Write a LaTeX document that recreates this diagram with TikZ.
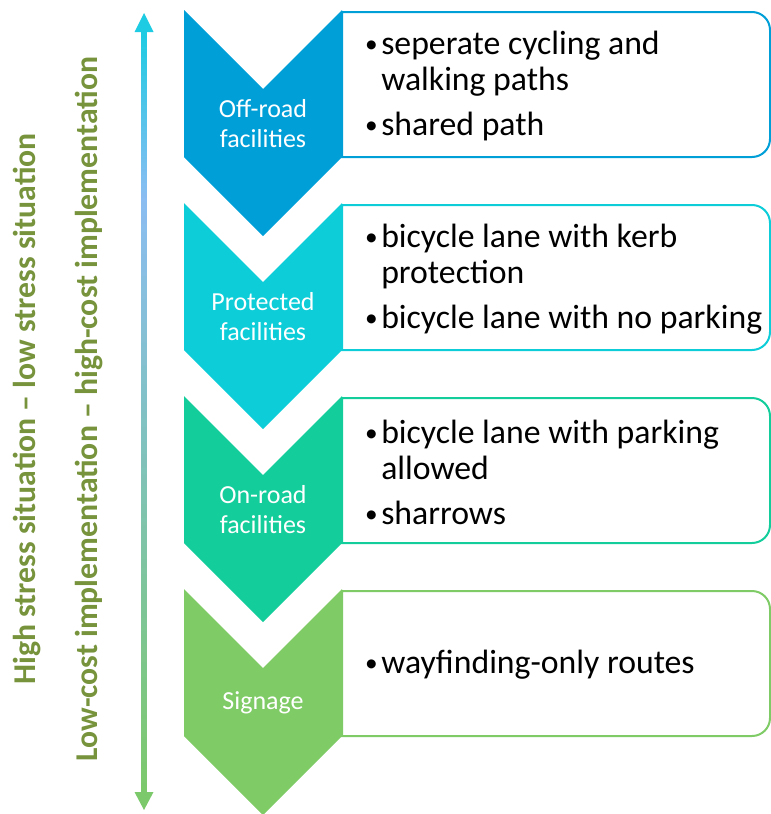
\documentclass[tikz,border=0pt]{standalone}
\usepackage{fontspec}
\setmainfont{Carlito}
\usepackage{tikz}
\usetikzlibrary{positioning, calc}
\definecolor{Path_Blue}{HTML}{009FD8}
\definecolor{Path_Cyan}{HTML}{0CCDD8}
\definecolor{Path_Teal}{HTML}{13CE9B}
\definecolor{Path_Green}{HTML}{7FCB66}
\definecolor{Axis_Olive}{HTML}{77933C}
\definecolor{Axis_Cyan}{HTML}{1DCBE2}
\definecolor{Axis_Sky}{HTML}{8BBDF2}
\definecolor{Axis_Mist}{HTML}{80C2BE}
\definecolor{Axis_Green}{HTML}{7CC96B}
\pgfdeclareverticalshading{axisfade}{100bp}{color(0bp)=(Axis_Green); color(25bp)=(Axis_Green); color(48bp)=(Axis_Mist); color(64bp)=(Axis_Sky); color(75bp)=(Axis_Cyan); color(100bp)=(Axis_Cyan)}
\newcommand{\itembul}{\makebox[12.75pt][l]{\hspace{0.6pt}\raisebox{1.8pt}{\fontsize{19}{19}\selectfont •}}}
\newcommand{\itemcont}{\hspace*{12.75pt}}

\begin{document}
\begin{tikzpicture}[x=0.75pt, y=-0.75pt,
    chev/.style={fill=#1},
    frame/.style={draw=#1, line width=1.5pt},
    chev label/.style={text=white, align=center, inner sep=0pt, font=\fontsize{19.5}{22.5}\selectfont},
    item list/.style={anchor=west, align=left, inner sep=0pt, font=\fontsize{25.3}{27}\selectfont},
    axis text/.style={rotate=90, anchor=base, inner sep=0pt, text=Axis_Olive, font=\fontsize{23.8}{28}\selectfont\bfseries}]

    \useasboundingbox (0,0) rectangle (771,814);

    % Axis arrow
    \coordinate (axistop) at (144,13);
    \coordinate (axisbottom) at (144,810);
    \shade[shading=axisfade] ($(axistop)+(-2.5,18)$) rectangle ($(axisbottom)+(2.5,-17)$);
    \fill[Axis_Cyan] (axistop) -- ++(9.5,19) -- ++(-19,0) -- cycle;
    \fill[Axis_Green] (axisbottom) -- ++(9.5,-18) -- ++(-19,0) -- cycle;

    % Axis texts
    \node[axis text] (stress) at (35,409) {High stress situation – low stress situation};
    \node[axis text] (cost) at (97,409) {Low-cost implementation – high-cost implementation};

    % Chevrons
    \fill[chev=Path_Blue]  (184,10)  -- (263,89)  -- (342,10)  -- (342,157) -- (263,236) -- (184,157) -- cycle;
    \fill[chev=Path_Cyan]  (184,203) -- (263,282) -- (342,203) -- (342,350) -- (263,429) -- (184,350) -- cycle;
    \fill[chev=Path_Teal]  (184,396) -- (263,475) -- (342,396) -- (342,543) -- (263,622) -- (184,543) -- cycle;
    \fill[chev=Path_Green] (184,589) -- (263,668) -- (342,589) -- (342,736) -- (263,815) -- (184,736) -- cycle;

    \node[chev label] (offroad) at (263,123.5) {Off-road\\facilities};
    \node[chev label] (protected) at (263,316.5) {Protected\\facilities};
    \node[chev label] (onroad) at (263,509.5) {On-road\\facilities};
    \node[chev label] (signage) at (263,702.5) {Signage};

    % Frames
    \draw[frame=Path_Blue]  (342,12)  -- (752,12)  arc[start angle=-90, end angle=0, radius=18] -- (770,139) arc[start angle=0, end angle=90, radius=18] -- (342,157) -- cycle;
    \draw[frame=Path_Cyan]  (342,205) -- (752,205) arc[start angle=-90, end angle=0, radius=18] -- (770,332) arc[start angle=0, end angle=90, radius=18] -- (342,350) -- cycle;
    \draw[frame=Path_Teal]  (342,398) -- (752,398) arc[start angle=-90, end angle=0, radius=18] -- (770,525) arc[start angle=0, end angle=90, radius=18] -- (342,543) -- cycle;
    \draw[frame=Path_Green] (342,591) -- (752,591) arc[start angle=-90, end angle=0, radius=18] -- (770,718) arc[start angle=0, end angle=90, radius=18] -- (342,736) -- cycle;

    % Lists
    \node[item list] (offlist) at (364,86.5) {\itembul seperate cycling and\\\itemcont walking paths\\[6.75pt]\itembul shared path};
    \node[item list] (protlist) at (364,279.5) {\itembul bicycle lane with kerb\\\itemcont protection\\[6.75pt]\itembul bicycle lane with no parking};
    \node[item list] (onlist) at (364,472.5) {\itembul bicycle lane with parking\\\itemcont allowed\\[6.75pt]\itembul sharrows};
    \node[item list] (signlist) at (364,665) {\itembul wayfinding-only routes};
\end{tikzpicture}
\end{document}
